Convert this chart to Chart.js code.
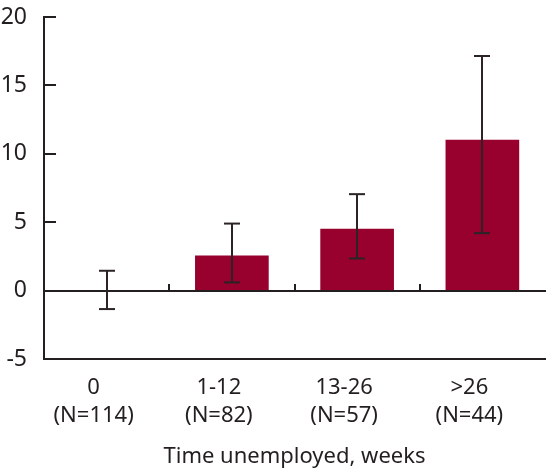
<!DOCTYPE html>
<html>
<head>
<meta charset="utf-8">
<script src="https://cdn.jsdelivr.net/npm/chart.js@4.4.0/dist/chart.umd.min.js"></script>
<style>
  html, body { margin: 0; padding: 0; background: #fff; }
  #wrap { width: 546px; height: 468px; }
</style>
</head>
<body>
<div id="wrap"><canvas id="chart"></canvas></div>
<script>
/* weeks unemployed vs change — bar chart with 95% CI */

const categories = ["0", "1-12", "13-26", ">26"];
const groupSizes = [114, 82, 57, 44];
const means = [0, 2.55, 4.5, 11.0];
const ciLow = [-1.35, 0.6, 2.35, 4.2];
const ciHigh = [1.45, 4.9, 7.05, 17.15];
const yTicks = [-5, 0, 5, 10, 15, 20];

const COLORS = {
  bar: "#98002e",
  ink: "#231f20",
  err: "#2b2326",
};
const FONT = "'Noto Sans', sans-serif";

function line(ctx, x1, y1, x2, y2) {
  ctx.beginPath();
  ctx.moveTo(x1, y1);
  ctx.lineTo(x2, y2);
  ctx.stroke();
}

// zero line, inward ticks, category dividers and error bars
const axisMarks = {
  id: "axisMarks",
  afterDatasetsDraw(chart) {
    const { ctx, scales: { x, y } } = chart;
    ctx.save();
    ctx.lineWidth = 2;
    ctx.strokeStyle = COLORS.ink;

    const y0 = Math.round(y.getPixelForValue(0));
    line(ctx, x.left, y0, chart.width, y0);

    yTicks.forEach((v) => {
      const py = Math.round(y.getPixelForValue(v));
      line(ctx, x.left, py, x.left + 12, py);
    });

    for (let i = 1; i < categories.length; i++) {
      const px = Math.round((x.getPixelForValue(i - 1) + x.getPixelForValue(i)) / 2);
      line(ctx, px, y0, px, y0 - 7);
    }

    ctx.strokeStyle = COLORS.err;
    means.forEach((m, i) => {
      const px = Math.round(x.getPixelForValue(i));
      const hi = y.getPixelForValue(ciHigh[i]);
      const lo = y.getPixelForValue(ciLow[i]);
      line(ctx, px, hi, px, lo);
      line(ctx, px - 8, hi, px + 8, hi);
      line(ctx, px - 8, lo, px + 8, lo);
    });
    ctx.restore();
  },
};

new Chart(document.getElementById("chart"), {
  type: "bar",
  data: {
    labels: categories.map((c, i) => [c, "(N=" + groupSizes[i] + ")"]),
    datasets: [{
      data: means,
      backgroundColor: COLORS.bar,
      barThickness: 73,
      borderWidth: 0,
    }],
  },
  options: {
    responsive: true,
    maintainAspectRatio: false,
    animation: false,
    layout: { padding: { top: 17, right: 1, left: 0, bottom: 0 } },
    plugins: { legend: { display: false }, tooltip: { enabled: false } },
    scales: {
      x: {
        grid: { display: false },
        border: { display: true, color: COLORS.ink, width: 2 },
        ticks: {
          color: COLORS.ink,
          font: { family: FONT, size: 22, lineHeight: 1.27 },
          padding: 7,
          labelOffset: -13,
          maxRotation: 0,
          autoSkip: false,
        },
        title: {
          display: true,
          text: "Time unemployed, weeks",
          color: COLORS.ink,
          font: { family: FONT, size: 22, lineHeight: 1.0 },
          padding: { top: 0, bottom: 0 },
        },
        afterFit: (s) => { s.height = 109; },
      },
      y: {
        min: -5,
        max: 20,
        grid: { display: false },
        border: { display: true, color: COLORS.ink, width: 2 },
        afterBuildTicks: (s) => { s.ticks = yTicks.map((v) => ({ value: v })); },
        ticks: {
          color: COLORS.ink,
          font: { family: FONT, size: 23 },
          padding: 9,
        },
        afterFit: (s) => {
          s.width = 44;
          s.paddingTop = 0;
          s.paddingBottom = 0;
        },
      },
    },
  },
  plugins: [axisMarks],
});
</script>
</body>
</html>
